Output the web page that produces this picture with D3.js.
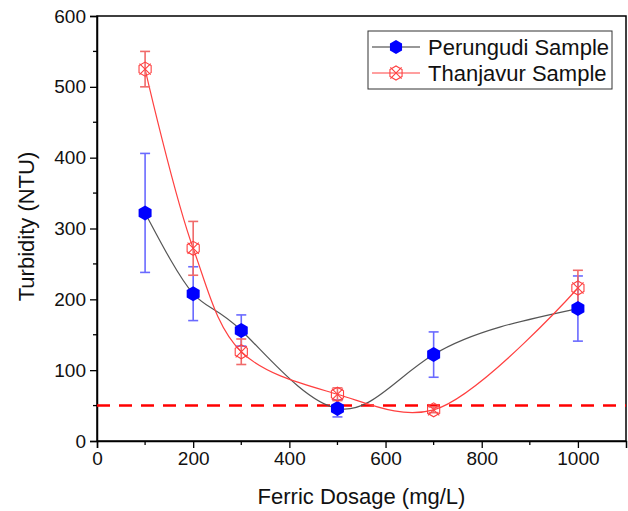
<!DOCTYPE html>
<html>
<head>
<meta charset="utf-8">
<script src="https://cdn.jsdelivr.net/npm/d3@7"></script>
<style>
  body { margin: 0; background: #fff; }
  text { font-family: Arial, "Liberation Sans", sans-serif; }
</style>
</head>
<body>
<div id="chart"></div>
<script>
// data
var dosage = [100, 200, 300, 500, 700, 1000];
var perungudi = [322, 208, 156, 46, 122, 187];
var perungudiErr = [84, 38, 22, 12, 32, 46];
var thanjavur = [525, 272, 126, 66, 44, 216];
var thanjavurErr = [25, 38, 18, 9, 4, 25];
var xTicks = [0, 200, 400, 600, 800, 1000];
var yTicks = [0, 100, 200, 300, 400, 500, 600];
var limitValue = 50;

var svgWidth = 628;
var svgHeight = 511;
var margin = { top: 16, right: 2, bottom: 70, left: 97 };
var width = svgWidth - margin.left - margin.right;
var height = svgHeight - margin.top - margin.bottom;

var svg = d3.select("#chart").append("svg")
  .attr("width", svgWidth)
  .attr("height", svgHeight);

var chartGroup = svg.append("g")
  .attr("transform", `translate(${margin.left}, ${margin.top})`);

var xScale = d3.scaleLinear().domain([0, 1100]).range([0, width]);
var yScale = d3.scaleLinear().domain([0, 600]).range([height, 0]);

// frame
chartGroup.append("rect")
  .attr("width", width).attr("height", height)
  .attr("fill", "none").attr("stroke", "#000").attr("stroke-width", 1.5);

// axes
var bottomAxis = d3.axisBottom(xScale).tickValues(xTicks).tickFormat(d3.format("d"))
  .tickSize(7).tickPadding(4);
var leftAxis = d3.axisLeft(yScale).tickValues(yTicks).tickFormat(d3.format("d"))
  .tickSize(7).tickPadding(4);

var xAxis = chartGroup.append("g")
  .attr("transform", `translate(0, ${height})`)
  .call(bottomAxis);
var yAxis = chartGroup.append("g").call(leftAxis);

// minor ticks
var xMinor = d3.range(100, 1100, 200);
chartGroup.selectAll(".xminor").data(xMinor).enter().append("line")
  .attr("x1", d => xScale(d)).attr("x2", d => xScale(d))
  .attr("y1", height).attr("y2", height + 4)
  .attr("stroke", "#000").attr("stroke-width", 1.3);
var yMinor = d3.range(50, 600, 100);
chartGroup.selectAll(".yminor").data(yMinor).enter().append("line")
  .attr("x1", 0).attr("x2", -4)
  .attr("y1", d => yScale(d)).attr("y2", d => yScale(d))
  .attr("stroke", "#000").attr("stroke-width", 1.3);

[xAxis, yAxis].forEach(a => {
  a.select(".domain").attr("stroke-width", 1.5);
  a.selectAll(".tick line").attr("stroke-width", 1.3);
  a.selectAll(".tick text").style("font-size", "19px").attr("fill", "#111");
});

// axis titles
chartGroup.append("text")
  .attr("x", width / 2)
  .attr("y", height + 63)
  .attr("text-anchor", "middle")
  .style("font-size", "22px")
  .attr("fill", "#111")
  .text("Ferric Dosage (mg/L)");

chartGroup.append("text")
  .attr("transform", "rotate(-90)")
  .attr("x", -height / 2 + 2)
  .attr("y", -63)
  .attr("text-anchor", "middle")
  .style("font-size", "22px")
  .attr("fill", "#111")
  .text("Turbidity (NTU)");

// limit line
chartGroup.append("line")
  .attr("x1", 0).attr("x2", width)
  .attr("y1", yScale(limitValue)).attr("y2", yScale(limitValue))
  .attr("stroke", "#ff0000").attr("stroke-width", 2.5)
  .attr("stroke-dasharray", "13,9");

var perData = dosage.map((d, i) => ({ x: d, y: perungudi[i], e: perungudiErr[i] }));
var thaData = dosage.map((d, i) => ({ x: d, y: thanjavur[i], e: thanjavurErr[i] }));

var perLine = d3.line()
  .x(d => xScale(d.x))
  .y(d => yScale(d.y))
  .curve(d3.curveNatural);

var thaLine = d3.line()
  .x(d => xScale(d.x))
  .y(d => yScale(d.y))
  .curve(d3.curveCatmullRom.alpha(0.5));

chartGroup.append("path").datum(perData)
  .attr("d", perLine).attr("fill", "none")
  .attr("stroke", "#555").attr("stroke-width", 1.2);
chartGroup.append("path").datum(thaData)
  .attr("d", thaLine).attr("fill", "none")
  .attr("stroke", "#ff4040").attr("stroke-width", 1.2);

function errorBars(data, color) {
  var g = chartGroup.append("g").attr("stroke", color).attr("stroke-width", 1.6);
  data.forEach(d => {
    var x = xScale(d.x);
    g.append("line").attr("x1", x).attr("x2", x)
      .attr("y1", yScale(d.y - d.e)).attr("y2", yScale(d.y + d.e));
    [d.y - d.e, d.y + d.e].forEach(v => {
      g.append("line").attr("x1", x - 5).attr("x2", x + 5)
        .attr("y1", yScale(v)).attr("y2", yScale(v));
    });
  });
}

errorBars(perData, "#6a6aff");
errorBars(thaData, "#f06a6a");

function hexPath(r) {
  var pts = d3.range(6).map(k => {
    var a = Math.PI / 6 + k * Math.PI / 3;
    return [r * Math.cos(a), r * Math.sin(a)];
  });
  return "M" + pts.map(p => p.join(",")).join("L") + "Z";
}

function crossMarker(g, r) {
  g.append("path")
    .attr("d", hexPath(r))
    .attr("fill", "none");
  g.append("path")
    .attr("d", `M${-r * 0.8},${-r * 0.8}L${r * 0.8},${r * 0.8}M${-r * 0.8},${r * 0.8}L${r * 0.8},${-r * 0.8}`);
}

// Perungudi markers
chartGroup.selectAll(".per").data(perData).enter().append("path")
  .attr("transform", d => `translate(${xScale(d.x)},${yScale(d.y)})`)
  .attr("d", hexPath(7.5))
  .attr("fill", "#0000ff");

// Thanjavur markers
thaData.forEach(d => {
  var g = chartGroup.append("g")
    .attr("transform", `translate(${xScale(d.x)},${yScale(d.y)})`)
    .attr("stroke", "#ff4040").attr("stroke-width", 1.1).attr("fill", "none");
  crossMarker(g, 7);
});

// legend
var legend = svg.append("g").attr("transform", "translate(368, 31)");
legend.append("rect")
  .attr("width", 244).attr("height", 58)
  .attr("fill", "#fff").attr("stroke", "#333").attr("stroke-width", 1);

legend.append("line").attr("x1", 4).attr("x2", 52).attr("y1", 16).attr("y2", 16)
  .attr("stroke", "#333").attr("stroke-width", 1.2);
legend.append("path").attr("transform", "translate(28,16)")
  .attr("d", hexPath(7)).attr("fill", "#0000ff");
legend.append("text").attr("x", 60).attr("y", 24)
  .style("font-size", "22px").attr("fill", "#111").text("Perungudi Sample");

legend.append("line").attr("x1", 4).attr("x2", 52).attr("y1", 42).attr("y2", 42)
  .attr("stroke", "#ff4040").attr("stroke-width", 1.2);
var lm = legend.append("g").attr("transform", "translate(28,42)")
  .attr("stroke", "#ff4040").attr("stroke-width", 1.1).attr("fill", "none");
crossMarker(lm, 7);
legend.append("text").attr("x", 60).attr("y", 50)
  .style("font-size", "22px").attr("fill", "#111").text("Thanjavur Sample");
</script>
</body>
</html>
